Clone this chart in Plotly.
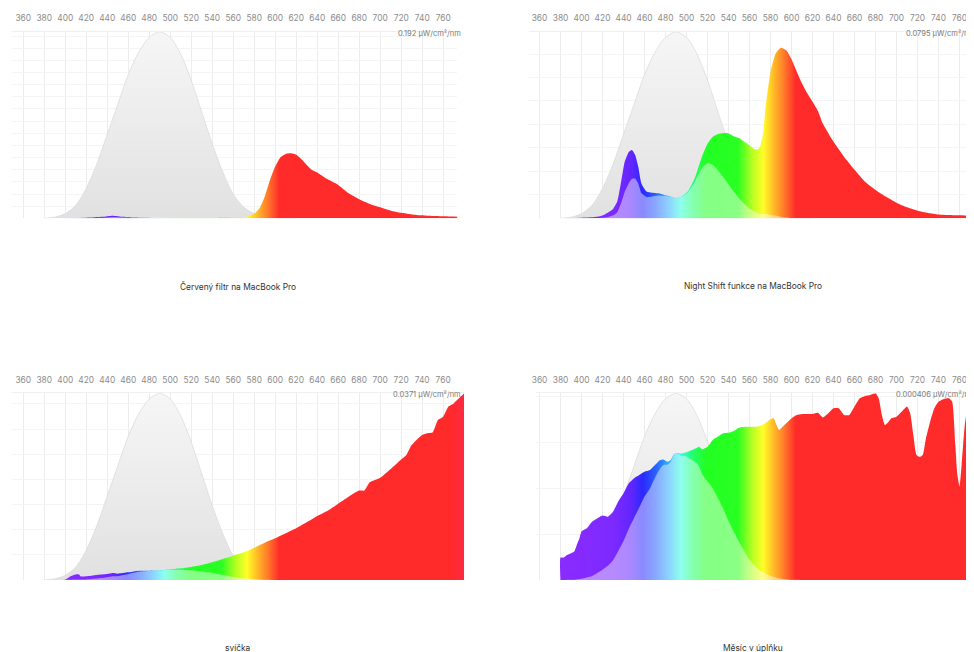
import numpy as np
import plotly.graph_objects as go

W, H = 974, 652
OFF = 8  # the page body adds an 8 px margin around the figure

# ---------------- data ----------------
# melanopic sensitivity (relative, peak 1 at 490 nm) – grey bell curve
mel_nm = [380, 390, 400, 410, 420, 430, 440, 450, 460, 470, 480, 490, 500,
          510, 520, 530, 540, 550, 560, 570, 580, 590, 600, 610, 620]
mel_val = [0.0, 0.006, 0.025, 0.07, 0.16, 0.29, 0.45, 0.61, 0.77, 0.89, 0.97, 1.0, 0.97,
           0.88, 0.74, 0.57, 0.40, 0.25, 0.13, 0.06, 0.025, 0.008, 0.002, 0.0, 0.0]

tick_nm = list(range(360, 761, 20))

titles = ["Červený filtr na MacBook Pro", "Night Shift funkce na MacBook Pro",
          "svíčka", "Měsíc v úplňku"]
axis_max_labels = ["0.192 μW/cm²/nm", "0.0795 μW/cm²/nm",
                   "0.0371 μW/cm²/nm", "0.000406 μW/cm²/nm"]
axis_max = [0.192, 0.0795, 0.0371, 0.000406]
grid_step = [0.0125, 0.01, 0.005, 0.0001]

# spectra, relative to the axis maximum of each panel
red_nm = [380, 420, 435, 445, 455, 470, 500, 560, 570, 575, 580, 585, 590, 595, 600, 605,
          610, 615, 620, 625, 630, 635, 640, 645, 650, 660, 670, 680, 690, 700, 710,
          720, 730, 740, 750, 760, 770, 780]
red_val = [0.0, 0.003, 0.008, 0.014, 0.008, 0.003, 0.002, 0.003, 0.006, 0.011, 0.025,
           0.054, 0.116, 0.205, 0.277, 0.327, 0.345, 0.348, 0.34, 0.316, 0.286, 0.259,
           0.245, 0.227, 0.209, 0.179, 0.134, 0.102, 0.077, 0.059, 0.041, 0.030, 0.021,
           0.016, 0.012, 0.011, 0.009, 0.008]

ns_nm = [380, 400, 415, 420, 425, 430, 434, 438, 441, 445, 448, 451, 454, 457, 462, 467,
         473, 479, 485, 489, 495, 501, 507, 510, 515, 520, 525, 530, 535, 540, 545, 550,
         555, 560, 565, 568, 570, 573, 575, 580, 585, 590, 595, 600, 605, 610, 615, 620,
         625, 630, 640, 650, 660, 670, 680, 690, 700, 710, 720, 730, 740, 750, 760, 770, 780]
ns_val = [0.0, 0.003, 0.008, 0.015, 0.03, 0.05, 0.09, 0.205, 0.30, 0.355, 0.366, 0.34,
          0.277, 0.187, 0.143, 0.137, 0.134, 0.125, 0.116, 0.11, 0.116, 0.143, 0.205, 0.25,
          0.335, 0.40, 0.4375, 0.452, 0.457, 0.455, 0.44, 0.43, 0.41, 0.39, 0.37, 0.37,
          0.384, 0.455, 0.58, 0.786, 0.884, 0.914, 0.90, 0.852, 0.786, 0.723, 0.67, 0.625,
          0.577, 0.505, 0.41, 0.33, 0.26, 0.196, 0.152, 0.116, 0.084, 0.059, 0.041, 0.029,
          0.021, 0.018, 0.016, 0.014, 0.013]

candle_nm = [380, 400, 405, 410, 413, 415, 420, 430, 440, 445, 450, 460, 465, 470, 480,
             490, 500, 510, 520, 530, 540, 550, 560, 570, 580, 590, 600, 610, 620, 630,
             640, 650, 660, 670, 680, 685, 690, 700, 710, 720, 725, 730, 740, 745, 750,
             755, 760, 765, 770, 775, 780]
candle_val = [0.0, 0.002, 0.02, 0.03, 0.03, 0.019, 0.02, 0.027, 0.032, 0.037, 0.034,
              0.041, 0.046, 0.05, 0.05, 0.052, 0.057, 0.0625, 0.07, 0.08, 0.095, 0.1125,
              0.13, 0.148, 0.173, 0.20, 0.223, 0.25, 0.277, 0.309, 0.343, 0.371, 0.409,
              0.446, 0.479, 0.479, 0.523, 0.548, 0.595, 0.646, 0.67, 0.723, 0.777, 0.786,
              0.79, 0.857, 0.875, 0.929, 0.946, 0.973, 1.0]

moon_nm = [379.9, 380, 383, 385, 390, 393, 395, 398, 400, 405, 410, 415, 420, 425, 430,
           435, 440, 445, 450, 455, 460, 465, 470, 475, 478, 482, 485, 488, 490, 495,
           500, 505, 510, 512, 515, 520, 525, 530, 535, 540, 545, 550, 555, 560, 565,
           570, 575, 580, 583, 585, 588, 590, 595, 600, 605, 610, 620, 625, 630, 635,
           640, 645, 650, 655, 660, 665, 670, 675, 680, 683, 686, 689, 692, 695, 700,
           705, 710, 713, 716, 719, 722, 725, 728, 732, 736, 740, 745, 750, 753, 756,
           758, 760, 762, 765, 768, 770, 775, 780]
moon_val = [0.0, 0.12, 0.12, 0.13, 0.143, 0.152, 0.18, 0.223, 0.26, 0.277, 0.3125, 0.33,
            0.345, 0.339, 0.366, 0.42, 0.464, 0.518, 0.545, 0.5625, 0.58, 0.589, 0.616,
            0.643, 0.646, 0.634, 0.643, 0.673, 0.68, 0.677, 0.684, 0.696, 0.709, 0.714,
            0.70, 0.714, 0.75, 0.768, 0.786, 0.789, 0.798, 0.816, 0.821, 0.821, 0.821,
            0.825, 0.839, 0.861, 0.866, 0.839, 0.804, 0.812, 0.839, 0.866, 0.884, 0.889,
            0.889, 0.896, 0.871, 0.893, 0.92, 0.92, 0.884, 0.884, 0.929, 0.973, 0.986,
            0.991, 1.0, 0.973, 0.884, 0.83, 0.845, 0.866, 0.875, 0.902, 0.929, 0.893,
            0.777, 0.67, 0.66, 0.67, 0.759, 0.848, 0.92, 0.955, 0.97, 0.973, 0.955, 0.723,
            0.5625, 0.5, 0.616, 0.83, 0.9375, 0.955, 0.96, 0.96]

spectra = [(red_nm, red_val), (ns_nm, ns_val), (candle_nm, candle_val), (moon_nm, moon_val)]

# ---------------- style ----------------
RAINBOW = [(380, '#8b2bff'), (430, '#7c2aff'), (447, '#6226ff'), (458, '#2a2aff'),
           (470, '#2a60ff'), (483, '#30b0ff'), (494, '#30ffe0'), (505, '#22ff70'),
           (518, '#22ff22'), (548, '#2aff22'), (562, '#b8ff22'), (572, '#ffff28'),
           (583, '#ffb428'), (592, '#ff7a2a'), (603, '#ff2a2a'), (765, '#ff2a2a'),
           (780, '#ff2a44')]
rainbow_cs = [[(nm - 380) / 400.0, c] for nm, c in RAINBOW]
grey_cs = [[0, '#e1e1e1'], [1, '#f6f6f6']]
FONT = "Inter, Liberation Sans, Arial"

# panel geometry in screen pixels: (left, right, top, bottom, x-range)
panels = [
    (8, 455, 31.7, 218.3, (349.3, 773.3)),
    (527, 974, 31.7, 218.3, (349.85, 773.8)),
    (8, 462, 393.3, 580.0, (349.3, 780.0)),
    (533.7, 974, 393.3, 580.0, (356.2, 773.8)),
]
title_pos = [(235, 286), (752, 286), (235, 648), (752, 648)]
label_right = [461, 977, 461, 977]


def px(x):
    return (x - OFF) / W


def py(y):
    return 1 - (y - OFF) / H


fig = go.Figure()
for i, ((nm, val), (l, r, t, b, xr)) in enumerate(zip(spectra, panels)):
    k = '' if i == 0 else str(i + 1)
    xa, ya = 'x' + k, 'y' + k
    # grey melanopic curve
    fig.add_trace(go.Scatter(
        x=mel_nm, y=mel_val, xaxis=xa, yaxis=ya, mode='lines',
        line=dict(color='#d8d8d8', width=0.7, shape='spline', smoothing=0.8),
        fill='tozeroy', fillgradient=dict(type='vertical', colorscale=grey_cs, start=0, stop=1),
        hoverinfo='skip', showlegend=False))
    # spectrum with wavelength colours
    fig.add_trace(go.Scatter(
        x=nm, y=val, xaxis=xa, yaxis=ya, mode='lines',
        line=dict(color='rgba(0,0,0,0)', width=0, shape='spline', smoothing=0.5),
        fill='tozeroy',
        fillgradient=dict(type='horizontal', colorscale=rainbow_cs, start=380, stop=780),
        hoverinfo='skip', showlegend=False))
    # melanopic-weighted part (pale overlay)
    weighted = np.array(val) * np.interp(nm, mel_nm, mel_val)
    fig.add_trace(go.Scatter(
        x=nm, y=weighted, xaxis=xa, yaxis=ya, mode='lines',
        line=dict(color='rgba(0,0,0,0)', width=0, shape='spline', smoothing=0.5),
        fill='tozeroy', fillcolor='rgba(255,255,255,0.45)',
        hoverinfo='skip', showlegend=False))

    step = grid_step[i] / axis_max[i]
    fig.layout['xaxis' + k] = dict(
        domain=[max(px(l), 0), min(px(r), 1)], range=list(xr), anchor=ya, side='top',
        tickvals=tick_nm, ticks='outside', ticklen=6, tickcolor='rgba(0,0,0,0)',
        tickfont=dict(family=FONT, size=8.4, color='#8c8c8c'),
        showgrid=True, gridcolor='#ececec', gridwidth=1,
        showline=True, linecolor='#f0f0f0', linewidth=1, zeroline=False, fixedrange=True)
    fig.layout['yaxis' + k] = dict(
        domain=[py(b), py(t)], range=[0, 1], anchor=xa,
        tick0=0, dtick=step, showticklabels=False, ticks='',
        showgrid=True, gridcolor='#f4f4f4', gridwidth=1, zeroline=False,
        showline=False, fixedrange=True)

    tx, ty = title_pos[i]
    fig.add_annotation(x=px(tx), y=py(ty), xref='paper', yref='paper',
                       text=titles[i], showarrow=False, xanchor='center', yanchor='middle',
                       font=dict(family=FONT, size=8.4, color='#333333'))
    fig.add_annotation(x=px(label_right[i]), y=py(t + 1.5), xref='paper', yref='paper',
                       text=axis_max_labels[i], showarrow=False, xanchor='right',
                       yanchor='middle', font=dict(family=FONT, size=7.5, color='#7a7a7a'))

fig.update_layout(width=W, height=H, margin=dict(l=0, r=0, t=0, b=0),
                  paper_bgcolor='white', plot_bgcolor='white', showlegend=False)
fig.write_html("out.html")
